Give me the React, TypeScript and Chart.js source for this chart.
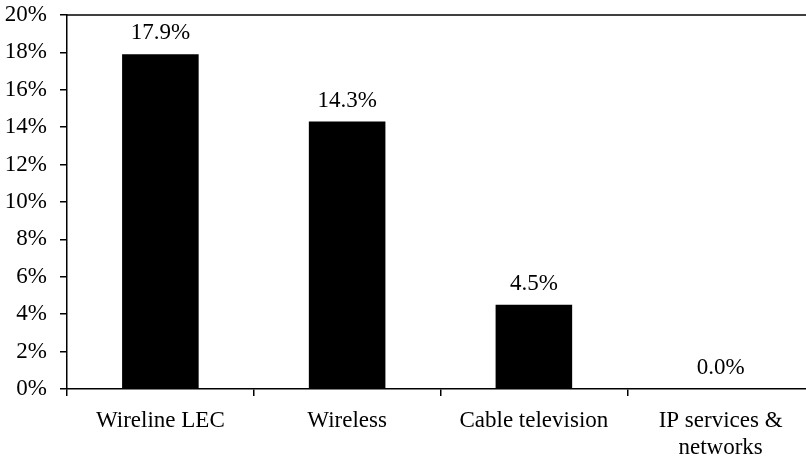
import React, { useEffect, useRef } from "react";
import { Chart, registerables } from "chart.js";

Chart.register(...registerables);

// Share of revenue by business segment
const categories: (string | string[])[] = [
  "Wireline LEC",
  "Wireless",
  "Cable television",
  ["IP services &", "networks"],
];
const shares: number[] = [17.9, 14.3, 4.5, 0.0];
const yMin = 0;
const yMax = 20;
const yStep = 2;

const FONT = "'Liberation Serif', 'Times New Roman', serif";
const FONT_SIZE = 23;

// Writes the value above each bar, e.g. "17.9%"
const valueLabels = {
  id: "valueLabels",
  afterDatasetsDraw(chart: Chart) {
    const { ctx } = chart;
    const meta = chart.getDatasetMeta(0);
    ctx.save();
    ctx.font = `${FONT_SIZE}px ${FONT}`;
    ctx.fillStyle = "#000";
    ctx.textAlign = "center";
    ctx.textBaseline = "alphabetic";
    meta.data.forEach((bar: any, i: number) => {
      ctx.fillText(`${shares[i].toFixed(1)}%`, bar.x, bar.y - 15);
    });
    ctx.restore();
  },
};

// Closing line along the top of the plot area
const topFrame = {
  id: "topFrame",
  afterDraw(chart: Chart) {
    const { ctx, chartArea } = chart;
    ctx.save();
    ctx.strokeStyle = "#000";
    ctx.lineWidth = 1.5;
    ctx.beginPath();
    ctx.moveTo(chartArea.left, chartArea.top);
    ctx.lineTo(chartArea.right, chartArea.top);
    ctx.stroke();
    ctx.restore();
  },
};

export default function App() {
  const canvasRef = useRef<HTMLCanvasElement | null>(null);

  useEffect(() => {
    const canvas = canvasRef.current;
    if (!canvas) return;
    const chart = new Chart(canvas, {
      type: "bar",
      data: {
        labels: categories,
        datasets: [
          {
            data: shares,
            backgroundColor: "#000",
            borderWidth: 0,
            categoryPercentage: 1,
            barPercentage: 0.41,
          },
        ],
      },
      options: {
        responsive: false,
        animation: false,
        devicePixelRatio: 1,
        layout: { padding: { top: 15, right: 6, left: 0, bottom: 0 } },
        plugins: {
          legend: { display: false },
          tooltip: { enabled: false },
        },
        scales: {
          x: {
            afterFit: (scale: any) => {
              scale.height = 70;
              scale.paddingLeft = 0;
              scale.paddingRight = 0;
            },
            grid: {
              offset: true,
              drawOnChartArea: false,
              drawTicks: true,
              tickLength: 7,
              color: "#000",
              lineWidth: 1.5,
            },
            border: { display: true, color: "#000", width: 1.5 },
            ticks: {
              color: "#000",
              font: { family: FONT, size: FONT_SIZE },
              padding: 11,
              maxRotation: 0,
              autoSkip: false,
            },
          },
          y: {
            min: yMin,
            max: yMax,
            afterFit: (scale: any) => {
              scale.width = 67;
              scale.paddingTop = 0;
              scale.paddingBottom = 0;
            },
            grid: {
              drawOnChartArea: false,
              drawTicks: true,
              tickLength: 7,
              color: "#000",
              lineWidth: 1.5,
            },
            border: { display: true, color: "#000", width: 1.5 },
            ticks: {
              stepSize: yStep,
              color: "#000",
              font: { family: FONT, size: FONT_SIZE },
              padding: 13,
              callback: (v: any) => `${v}%`,
            },
          },
        },
      },
      plugins: [valueLabels, topFrame],
    });
    return () => chart.destroy();
  }, []);

  return (
    <div
      style={{
        position: "fixed",
        left: 0,
        top: 0,
        width: 806,
        height: 459,
        overflow: "hidden",
        background: "#fff",
      }}
    >
      <canvas
        ref={canvasRef}
        width={820}
        height={459}
        style={{ display: "block", width: 820, height: 459 }}
      />
    </div>
  );
}
